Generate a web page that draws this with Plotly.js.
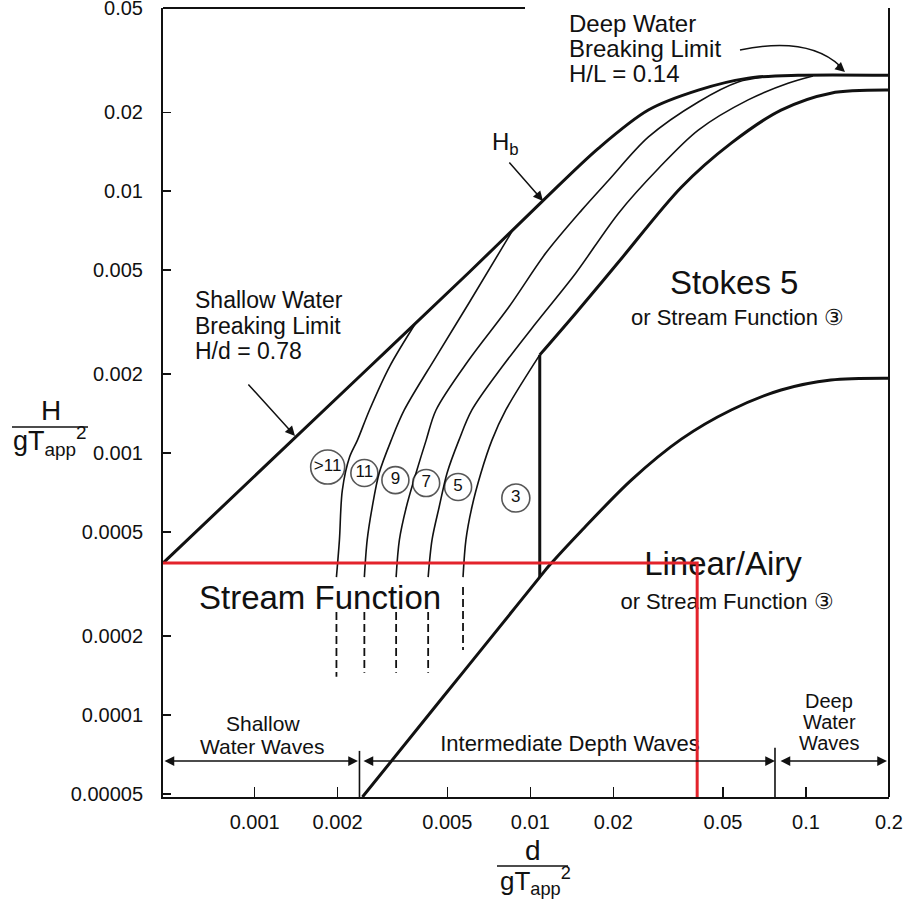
<!DOCTYPE html>
<html><head><meta charset="utf-8">
<script src="https://cdn.plot.ly/plotly-3.0.1.min.js"></script>
<style>html,body{margin:0;padding:0;background:#fff;} #chart{width:905px;height:901px;}</style>
</head><body><div id="chart"></div>
<script>
// ---------------- data : x = d/gT^2 , y = H/gT^2 ----------------
const hbD = [0.000465, 0.00261, 0.0060, 0.0110, 0.0177, 0.0268, 0.0407, 0.0617, 0.0936, 0.2];
const hbH = [0.00038, 0.00213, 0.0049, 0.0091, 0.0146, 0.0204, 0.0243, 0.0270, 0.0277, 0.0277];

const sfGt11D = [0.00198, 0.00203, 0.00208, 0.00221, 0.00236, 0.00261, 0.00308, 0.00385];
const sfGt11H = [0.000336, 0.000466, 0.000722, 0.000965, 0.00112, 0.00146, 0.00213, 0.00315];

const sf11D = [0.00250, 0.00256, 0.00267, 0.00283, 0.00313, 0.00349, 0.00455, 0.00599, 0.00857];
const sf11H = [0.000336, 0.000466, 0.000622, 0.000839, 0.00112, 0.00146, 0.00233, 0.00374, 0.0070];

const sf9D = [0.00326, 0.00335, 0.00355, 0.00385, 0.00419, 0.00455, 0.00599, 0.00836, 0.01138, 0.01536, 0.01923, 0.02683, 0.04068, 0.05677, 0.0699];
const sf9H = [0.000336, 0.000466, 0.000622, 0.000839, 0.00112, 0.00146, 0.00227, 0.00361, 0.00580, 0.00846, 0.0110, 0.0161, 0.0219, 0.0261, 0.0272];

const sf7D = [0.00426, 0.00440, 0.00467, 0.00499, 0.00551, 0.00614, 0.00789, 0.01047, 0.01461, 0.02090, 0.02916, 0.04068, 0.06169, 0.08608, 0.106];
const sf7H = [0.000336, 0.000466, 0.000622, 0.000839, 0.00112, 0.00146, 0.00213, 0.00313, 0.00486, 0.00824, 0.0122, 0.0171, 0.0223, 0.0258, 0.0275];

const sf5D = [0.00570, 0.00584, 0.00614, 0.00662, 0.00726, 0.00815, 0.01082];
const sf5H = [0.000336, 0.000466, 0.000622, 0.000839, 0.00112, 0.00146, 0.00237];

const stokesD = [0.01082, 0.01461, 0.02090, 0.03530, 0.05356, 0.08121, 0.12313, 0.2];
const stokesH = [0.00237, 0.00342, 0.00536, 0.01035, 0.01525, 0.02038, 0.02366, 0.0243];

const sf3D = [0.01082, 0.01082];
const sf3H = [0.00237, 0.000336];

const linearD = [0.00246, 0.00479, 0.00769, 0.01082, 0.01167, 0.01536, 0.02329, 0.03530, 0.05356, 0.08121, 0.12313, 0.2];
const linearH = [0.0000486, 0.000116, 0.000215, 0.000336, 0.000370, 0.000506, 0.00079, 0.00113, 0.00146, 0.00174, 0.00190, 0.00193];

const dashD = [0.00198, 0.00250, 0.00326, 0.00426, 0.00570];
const dashTop = [0.000247, 0.000247, 0.000247, 0.000247, 0.000308];
const dashBot = [0.000140, 0.000145, 0.000145, 0.000145, 0.000177];

const circleLabels = ['>11', '11', '9', '7', '5', '3'];
const circleD = [0.00184, 0.00250, 0.00324, 0.00419, 0.00547, 0.00886];
const circleH = [0.000884, 0.000839, 0.000788, 0.000768, 0.000742, 0.000673];

const readD = 0.0403;     // red reading line, d/gT^2
const readH = 0.00038;    // red reading line, H/gT^2

const shallowLimit = 0.0024;
const deepLimit = 0.0772;
const dividerTopS = 0.0000729;
const dividerTopD = 0.0000749;

const xMin = 0.000465, xMax = 0.2, yMin = 0.0000486, yMax = 0.05;

const xTickVals = [0.001, 0.002, 0.005, 0.01, 0.02, 0.05, 0.1, 0.2];
const xTickText = ['0.001', '0.002', '0.005', '0.01', '0.02', '0.05', '0.1', '0.2'];
const yTickVals = [0.00005, 0.0001, 0.0002, 0.0005, 0.001, 0.002, 0.005, 0.01, 0.02, 0.05];
const yTickText = ['0.00005', '0.0001', '0.0002', '0.0005', '0.001', '0.002', '0.005', '0.01', '0.02', '0.05'];

// ---------------- layout helpers ----------------
const FONT = 'Liberation Sans, Arial, Helvetica, sans-serif';
const INK = '#111111';
const L = 163, T = 8, W = 726, HH = 789;
const PX = px => (px - L) / W;
const PY = py => (T + HH - py) / HH;
const xr = [Math.log10(xMin), Math.log10(xMax) + 0.0002];
const yr = [Math.log10(yMin), Math.log10(yMax) + 0.0002];
const dataAt = (px, py) => [Math.pow(10, xr[0] + (px - L) / W * (xr[1] - xr[0])),
                            Math.pow(10, yr[1] - (py - T) / HH * (yr[1] - yr[0]))];

function curve(x, y, w, extra) {
  return Object.assign({type: 'scatter', mode: 'lines', x: x, y: y,
    line: {color: INK, width: w, shape: 'spline', smoothing: 0.9},
    hoverinfo: 'skip', showlegend: false}, extra || {});
}

const traces = [];
traces.push(curve(linearD, linearH, 3));
traces.push(curve(sf3D, sf3H, 3, {line: {color: INK, width: 3, shape: 'linear'}}));
traces.push(curve(stokesD, stokesH, 3));
traces.push(curve(sf5D, sf5H, 1.6));
traces.push(curve(sf7D, sf7H, 1.6));
traces.push(curve(sf9D, sf9H, 1.6));
traces.push(curve(sf11D, sf11H, 1.6));
traces.push(curve(sfGt11D, sfGt11H, 1.6));
traces.push(curve(hbD, hbH, 3));
for (let i = 0; i < dashD.length; i++) {
  traces.push(curve([dashD[i], dashD[i]], [dashTop[i], dashBot[i]], 1.8,
    {line: {color: INK, width: 1.8, dash: '8px,4px', shape: 'linear'}}));
}
// region dividers at the bottom
traces.push(curve([shallowLimit, shallowLimit], [dividerTopS, yMin], 1.6, {line: {color: INK, width: 1.6, shape: 'linear'}}));
traces.push(curve([deepLimit, deepLimit], [dividerTopD, yMin], 1.6, {line: {color: INK, width: 1.6, shape: 'linear'}}));

// circled order labels
traces.push({type: 'scatter', mode: 'markers+text', x: circleD, y: circleH, text: circleLabels,
  textposition: 'middle center', textfont: {family: FONT, size: 17, color: INK},
  marker: {symbol: 'circle', size: [34, 27, 27, 27, 27, 28], color: '#fff', line: {color: INK, width: 1.6}},
  hoverinfo: 'skip', showlegend: false, cliponaxis: false});

// labels that the red reading line crosses (drawn as text traces so the red line lies on top)
function textTrace(t, px, py, size) {
  const p = dataAt(px, py);
  return {type: 'scatter', mode: 'text', x: [p[0]], y: [p[1]], text: [t], textposition: 'middle center',
    textfont: {family: FONT, size: size, color: INK}, hoverinfo: 'skip', showlegend: false, cliponaxis: false};
}
traces.push(textTrace('Linear/Airy', 723, 567, 33));
traces.push(textTrace('or Stream Function ③', 727, 603, 22));
traces.push(textTrace('Intermediate Depth Waves', 570, 745, 22));

// red reading lines
traces.push(curve([xMin, readD, readD], [readH, readH, yMin], 3,
  {line: {color: '#e3232b', width: 3, shape: 'linear'}}));

// ---------------- annotations ----------------
function txt(t, px, py, size, anchor) {
  return {text: t, xref: 'paper', yref: 'paper', x: PX(px), y: PY(py), xanchor: anchor || 'center',
    yanchor: 'middle', showarrow: false, font: {family: FONT, size: size, color: INK}};
}
function arrow(tipPx, tipPy, ax, ay, both) {
  const a = {text: '', xref: 'paper', yref: 'paper', x: PX(tipPx), y: PY(tipPy), ax: ax, ay: ay,
    showarrow: true, arrowhead: 2, arrowsize: 1.3, arrowwidth: 1.5, arrowcolor: INK, standoff: 0};
  if (both) { a.arrowside = 'end+start'; a.startarrowhead = 2; a.startarrowsize = 1.3; a.startstandoff = 0; }
  return a;
}
const annotations = [
  txt('Deep Water', 567, 24, 24, 'left'),
  txt('Breaking Limit', 567, 49, 24, 'left'),
  txt('H/L = 0.14', 567, 73, 24, 'left'),
  txt('H<sub>b</sub>', 505, 144, 24),
  txt('Shallow Water', 193, 300, 23, 'left'),
  txt('Breaking Limit', 193, 325.5, 23, 'left'),
  txt('H/d = 0.78', 193, 351, 23, 'left'),
  txt('Stokes 5', 734, 282, 33),
  txt('or Stream Function ③', 737, 318, 22),
  txt('Stream Function', 320, 597, 33),
  txt('Shallow', 263, 723, 21),
  txt('Water Waves', 262, 746, 21),
  txt('Deep', 829, 701, 20),
  txt('Water', 829, 722, 20),
  txt('Waves', 829, 743, 20),
  txt('H', 51, 411, 28),
  txt('gT<sub>app</sub><sup>2</sup>', 50, 441, 27),
  txt('d', 533, 851, 28),
  txt('gT<sub>app</sub><sup>2</sup>', 535, 881, 26),
  arrow(543, 201, -35, -40),
  arrow(295, 436, -48, -53),
  arrow(845, 72, -9, -8),
  arrow(358, 761, -195, 0, true),
  arrow(775, 761, -413, 0, true),
  arrow(887, 761, -108, 0, true)
];

const shapes = [
  {type: 'line', xref: 'paper', yref: 'paper', x0: 0, x1: PX(525), y0: 1, y1: 1, line: {color: INK, width: 2}},
  {type: 'line', xref: 'paper', yref: 'paper', x0: 1, x1: 1, y0: 0, y1: 1, line: {color: INK, width: 2}},
  {type: 'line', xref: 'paper', yref: 'paper', x0: PX(12), x1: PX(88), y0: PY(427), y1: PY(427), line: {color: INK, width: 1.5}},
  {type: 'line', xref: 'paper', yref: 'paper', x0: PX(497), x1: PX(568), y0: PY(866), y1: PY(866), line: {color: INK, width: 1.5}},
  {type: 'path', xref: 'paper', yref: 'paper',
   path: 'M ' + PX(740) + ' ' + PY(50) + ' Q ' + PX(808) + ' ' + PY(36) + ' ' + PX(840) + ' ' + PY(66),
   line: {color: INK, width: 1.5}}
];

const layout = {
  width: 905, height: 901,
  margin: {l: L, r: 905 - L - W, t: T, b: 901 - T - HH},
  paper_bgcolor: '#fff', plot_bgcolor: '#fff',
  showlegend: false,
  font: {family: FONT, color: INK},
  xaxis: {type: 'log', range: xr, showgrid: false, zeroline: false,
    showline: true, linecolor: INK, linewidth: 2,
    ticks: 'inside', ticklen: 10, tickwidth: 1.5, tickcolor: INK,
    tickvals: xTickVals, ticktext: xTickText, tickfont: {family: FONT, size: 20, color: INK},
    ticklabelstandoff: 6, ticklabeloverflow: 'allow'},
  yaxis: {type: 'log', range: yr, showgrid: false, zeroline: false,
    showline: true, linecolor: INK, linewidth: 2,
    ticks: 'inside', ticklen: 8, tickwidth: 1.5, tickcolor: INK,
    tickvals: yTickVals, ticktext: yTickText, tickfont: {family: FONT, size: 20, color: INK},
    ticklabelstandoff: 14, ticklabeloverflow: 'allow'},
  annotations: annotations,
  shapes: shapes
};

Plotly.newPlot('chart', traces, layout, {staticPlot: true, displayModeBar: false});
</script>
</body></html>
